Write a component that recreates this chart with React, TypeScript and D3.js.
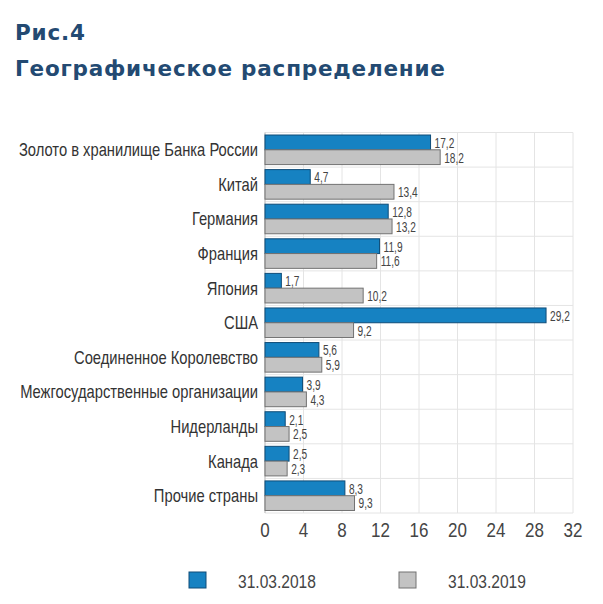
import React from "react";
import * as d3 from "d3";

const categories = [
  "Золото в хранилище Банка России",
  "Китай",
  "Германия",
  "Франция",
  "Япония",
  "США",
  "Соединенное Королевство",
  "Межгосударственные организации",
  "Нидерланды",
  "Канада",
  "Прочие страны",
];
const values2018 = [17.2, 4.7, 12.8, 11.9, 1.7, 29.2, 5.6, 3.9, 2.1, 2.5, 8.3];
const values2019 = [18.2, 13.4, 13.2, 11.6, 10.2, 9.2, 5.9, 4.3, 2.5, 2.3, 9.3];
const seriesNames = ["31.03.2018", "31.03.2019"];
const xTicks = [0, 4, 8, 12, 16, 20, 24, 28, 32];

const W = 603;
const H = 604;
const left = 265;
const right = 573;
const top = 132.5;
const bottom = 513;

const BLUE = "#1682c2";
const BLUE_STROKE = "#0e4c78";
const GRAY = "#c3c3c3";
const GRAY_STROKE = "#727272";
const TITLE = "#234a72";
const SANS = "'Liberation Sans', Arial, sans-serif";

function NText(props: {
  x: number;
  y: number;
  sx: number;
  size: number;
  anchor?: string;
  fill?: string;
  children: React.ReactNode;
}) {
  return (
    <text
      transform={`translate(${props.x},${props.y}) scale(${props.sx},1)`}
      x={0}
      y={0}
      textAnchor={props.anchor || "start"}
      fontFamily={SANS}
      fontSize={props.size}
      fill={props.fill || "#3a3a3a"}
    >
      {props.children}
    </text>
  );
}

export default function App() {
  const x = d3.scaleLinear().domain([0, 32]).range([left, right]);
  const y = d3.scaleBand<string>().domain(categories).range([top, bottom]).paddingInner(0).paddingOuter(0);
  const inner = d3.scaleBand<string>().domain(seriesNames).range([0, y.bandwidth()]).paddingInner(0).paddingOuter(0.17);
  const fmt = (v: number) => v.toFixed(1).replace(".", ",");
  const series = [
    { name: seriesNames[0], values: values2018, fill: BLUE, stroke: BLUE_STROKE },
    { name: seriesNames[1], values: values2019, fill: GRAY, stroke: GRAY_STROKE },
  ];

  return (
    <svg width={W} height={H} style={{ position: "absolute", left: 0, top: 0, background: "#fff" }}>
      <rect x={0} y={0} width={W} height={H} fill="#fff" />
      <text x={15} y={40} fill={TITLE} fontFamily="'DejaVu Sans', Verdana, sans-serif" fontWeight="bold" fontSize={21.5} letterSpacing={0.8}>Рис.4</text>
      <text x={15} y={76} fill={TITLE} fontFamily="'DejaVu Sans', Verdana, sans-serif" fontWeight="bold" fontSize={21.5} letterSpacing={0.8}>Географическое распределение</text>

      {/* grid */}
      {xTicks.map((t) => (
        <line key={"gx" + t} x1={x(t)} x2={x(t)} y1={top} y2={bottom} stroke="#e4e4e4" strokeWidth={1} />
      ))}
      {categories.map((c) => (
        <line key={"gy" + c} x1={left} x2={right} y1={y(c)!} y2={y(c)!} stroke="#e4e4e4" strokeWidth={1} />
      ))}
      <line x1={left} x2={right} y1={bottom} y2={bottom} stroke="#e4e4e4" strokeWidth={1} />
      <line x1={left} x2={left} y1={top} y2={bottom} stroke="#bdbdbd" strokeWidth={1} />

      {/* bars */}
      {categories.map((c, i) => (
        <g key={"row" + c}>
          {series.map((s) => {
            const by = y(c)! + inner(s.name)!;
            const bh = inner.bandwidth();
            const v = s.values[i];
            return (
              <g key={s.name}>
                <rect x={x(0)} y={by} width={x(v) - x(0)} height={bh} fill={s.fill} stroke={s.stroke} strokeWidth={1} />
                <NText x={x(v) + 4} y={by + bh - 2} sx={0.7} size={14.5} fill="#444">{fmt(v)}</NText>
              </g>
            );
          })}
          <NText x={258} y={y(c)! + y.bandwidth() / 2 + 6.5} sx={0.82} size={18} anchor="end" fill="#333">{c}</NText>
        </g>
      ))}

      {/* x axis ticks */}
      {xTicks.map((t) => (
        <NText key={"tx" + t} x={x(t)} y={537} sx={0.85} size={20} anchor="middle" fill="#444">{t}</NText>
      ))}

      {/* legend */}
      <rect x={189} y={572} width={17} height={16} fill={BLUE} stroke={BLUE_STROKE} strokeWidth={1} />
      <NText x={238} y={588} sx={0.82} size={19} fill="#444">{seriesNames[0]}</NText>
      <rect x={399} y={572} width={17} height={16} fill={GRAY} stroke={GRAY_STROKE} strokeWidth={1} />
      <NText x={448} y={588} sx={0.82} size={19} fill="#444">{seriesNames[1]}</NText>
    </svg>
  );
}
